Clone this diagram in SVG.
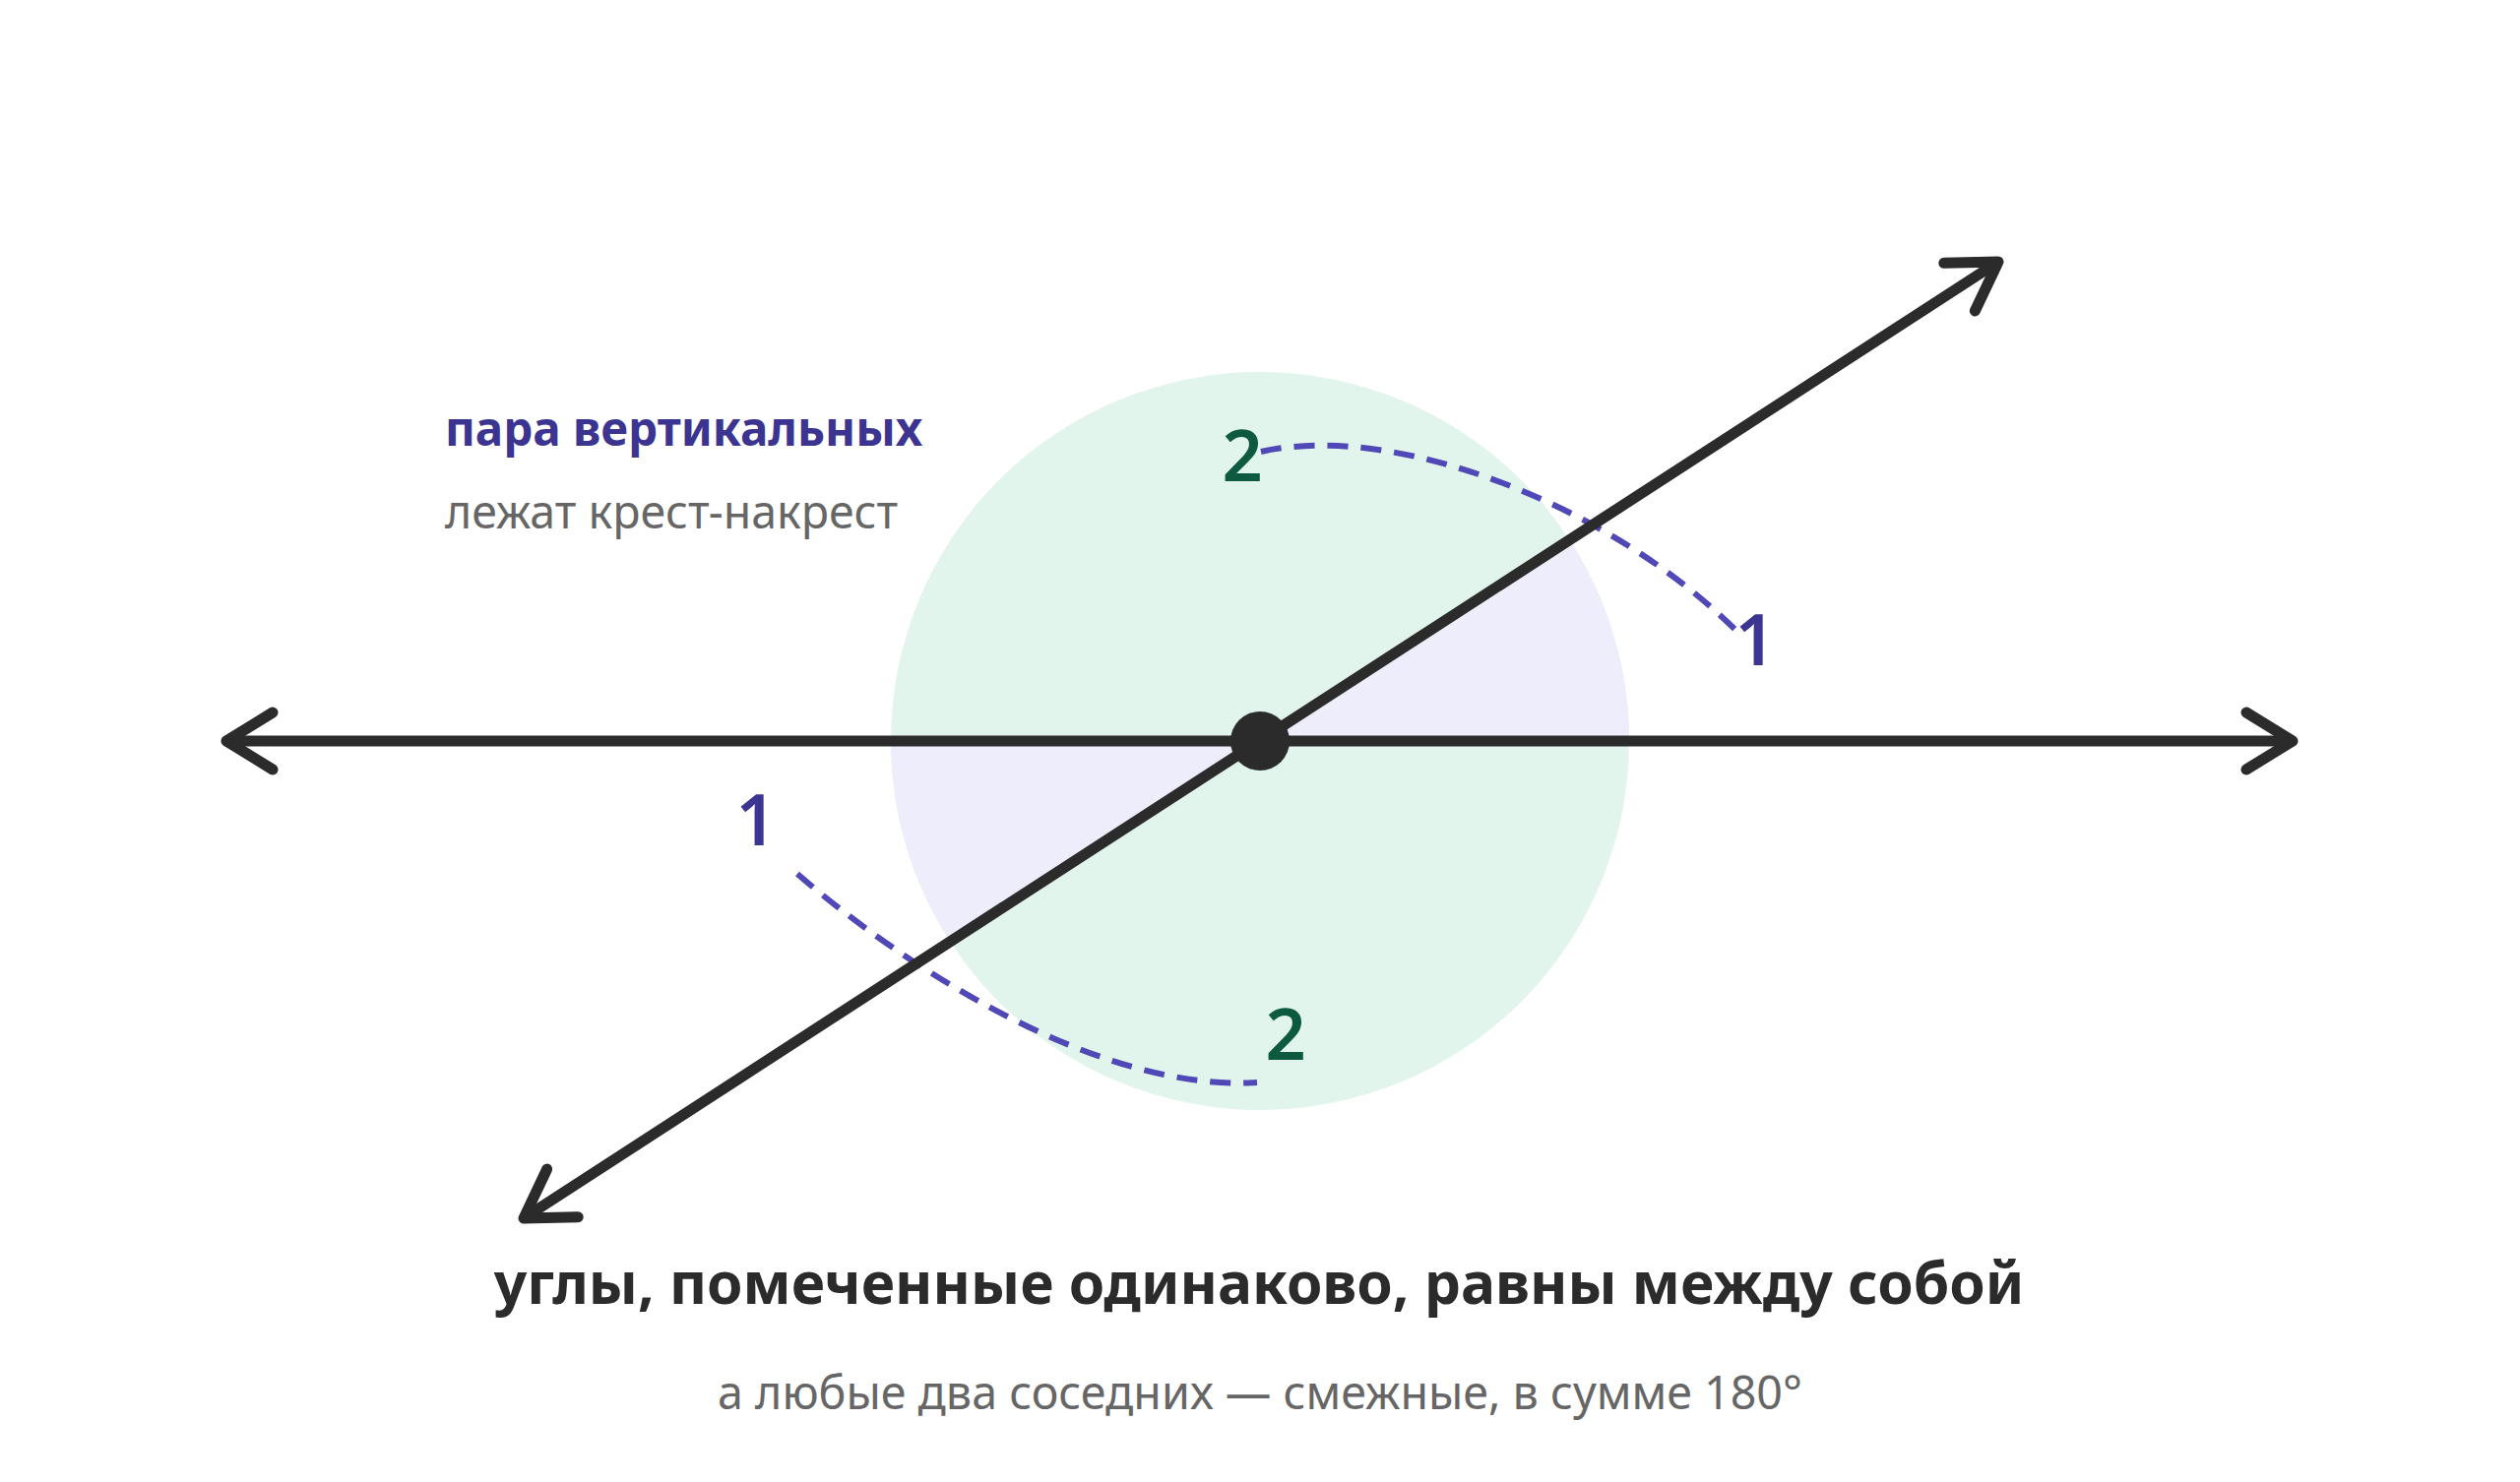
<svg xmlns="http://www.w3.org/2000/svg" width="2560" height="1506" viewBox="0 0 2560 1506">
<style>
.ln{stroke:#2b2b2b;stroke-width:11;fill:none;stroke-linecap:butt}
.dash{stroke:#4f48b6;stroke-width:6;fill:none;stroke-dasharray:21 13}
.t{font-family:"Noto Sans","Open Sans","Liberation Sans",sans-serif}
.num{font-size:72px;font-weight:600}
.one{fill:#3c3592}
.two{fill:#0d5a40}
</style>
<defs>
<marker id="ah" markerUnits="userSpaceOnUse" markerWidth="80" markerHeight="80" viewBox="-60 -40 80 80" refX="0" refY="0" orient="auto-start-reverse">
<path d="M -47 -29 L 0 0 L -47 29" fill="none" stroke="#2b2b2b" stroke-width="11" stroke-linecap="round" stroke-linejoin="round"/>
</marker>
</defs>
<rect width="2560" height="1506" fill="#ffffff"/>
<g id="sectors">
<circle cx="1280" cy="753" r="375" fill="#e2f5ed"/>
<path d="M1280 753 L1655 753 A375 375 0 0 0 1594.6 548.9 Z" fill="#ededfc"/>
<path d="M1280 753 L905 753 A375 375 0 0 0 965.4 957.1 Z" fill="#ededfc"/>
</g>
<g id="connectors">
<path class="dash" d="M1281 459 C1420 428 1640 515 1768 645"/>
<path class="dash" d="M810 888 C910 975 1110 1110 1277 1100"/>
<line class="ln" x1="230" y1="753" x2="2329" y2="753" marker-start="url(#ah)" marker-end="url(#ah)"/>
<line class="ln" x1="532" y1="1238" x2="2030" y2="266" marker-start="url(#ah)" marker-end="url(#ah)"/>
</g>
<g id="vertex">
<circle cx="1280" cy="753" r="30" fill="#2b2b2b"/>
</g>
<g id="labels">
<text class="t num two" x="1262" y="489" text-anchor="middle">2</text>
<text class="t num one" x="1783" y="676" text-anchor="middle">1</text>
<text class="t num one" x="768" y="859" text-anchor="middle">1</text>
<text class="t num two" x="1306" y="1077" text-anchor="middle">2</text>
</g>
<g id="legend">
<text class="t" x="452" y="453" font-size="47.5" font-weight="700" fill="#3b3490">пара вертикальных</text>
<text class="t" x="452" y="537" font-size="46.5" fill="#666666">лежат крест-накрест</text>
</g>
<g id="caption">
<text class="t" x="1279" y="1325" text-anchor="middle" font-size="58.7" font-weight="700" fill="#2b2b2b">углы, помеченные одинаково, равны между собой</text>
<text class="t" x="1280" y="1432" text-anchor="middle" font-size="46.6" fill="#666666">а любые два соседних — смежные, в сумме 180°</text>
</g>
</svg>
